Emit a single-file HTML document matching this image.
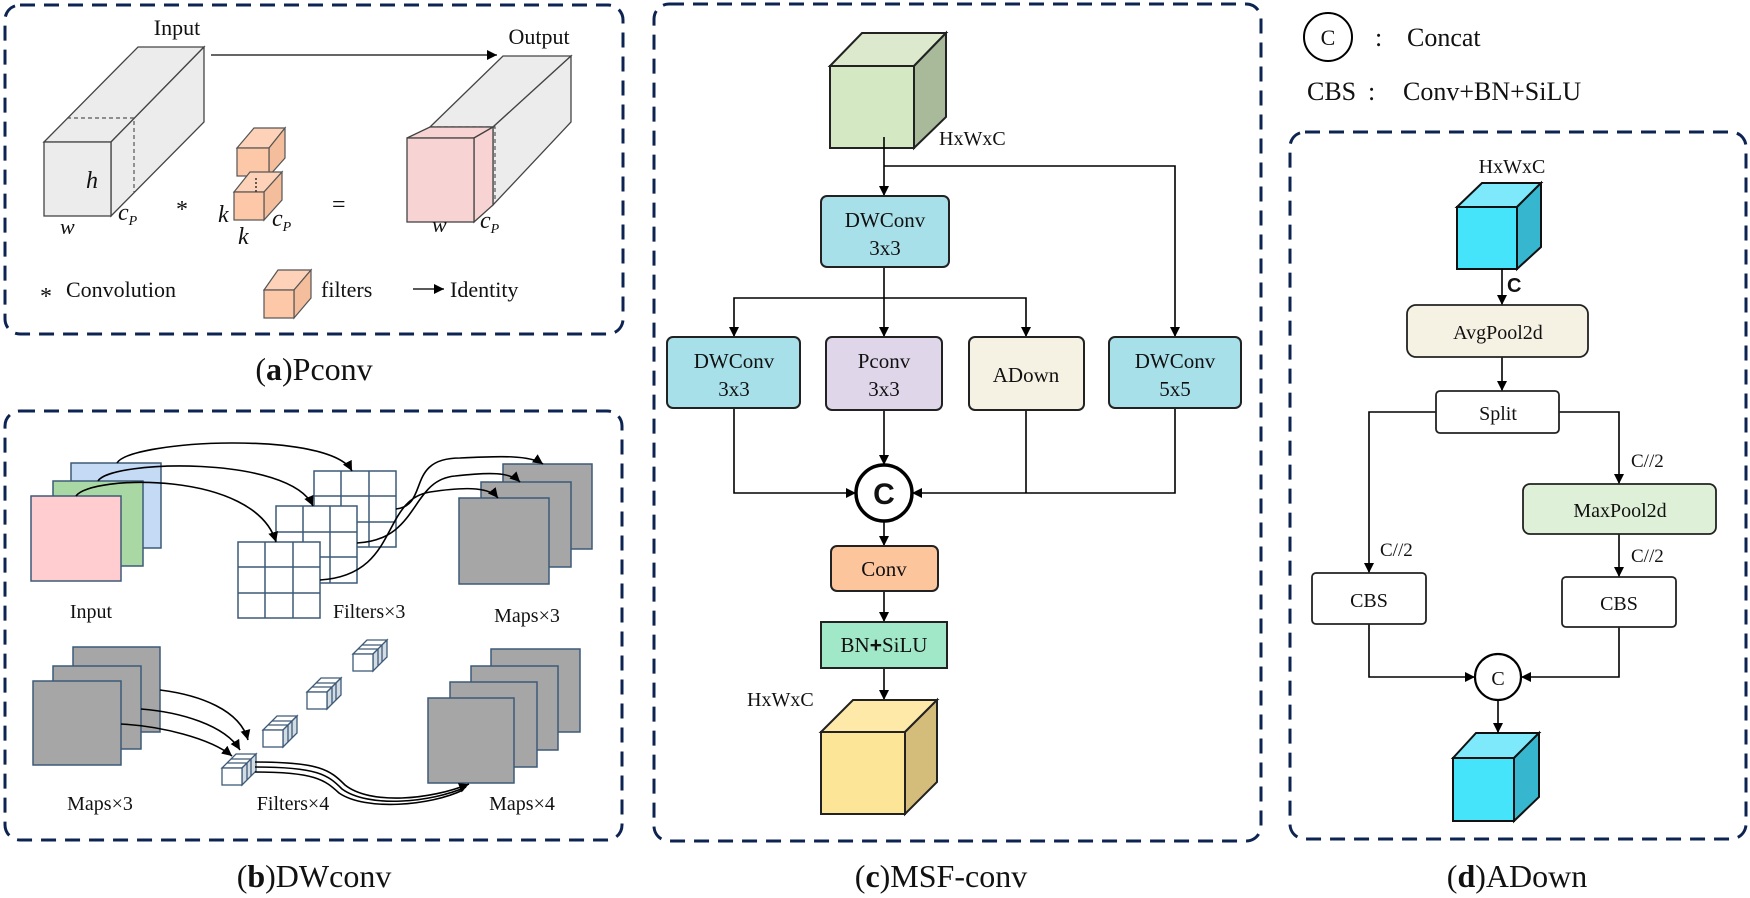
<!DOCTYPE html>
<html><head><meta charset="utf-8"><style>
html,body{margin:0;padding:0;background:#fff;}
svg{display:block;}
text{font-family:"Liberation Serif",serif;fill:#111;}
</style></head><body>
<svg width="1750" height="898" viewBox="0 0 1750 898" xmlns="http://www.w3.org/2000/svg">
<defs>
<marker id="ar" viewBox="0 0 10 10" refX="10" refY="5" markerWidth="7" markerHeight="7" markerUnits="userSpaceOnUse" orient="auto" style="overflow:visible">
<path d="M0,0 L10,5 L0,10 z" fill="#000" transform="scale(1.4) translate(-2.9,-1.45)"/>
</marker>
<marker id="as" viewBox="0 0 10 10" refX="10" refY="5" markerWidth="10" markerHeight="10" markerUnits="userSpaceOnUse" orient="auto">
<path d="M0,0 L10,5 L0,10 z" fill="#000"/>
</marker>
</defs>

<!-- Panel borders -->
<g fill="none" stroke="#0d2452" stroke-width="3" stroke-dasharray="15 9">
<rect x="5" y="5" width="618" height="329" rx="15"/>
<rect x="5" y="411" width="617" height="429" rx="15"/>
<rect x="654" y="4" width="607" height="837" rx="15"/>
<rect x="1290" y="132" width="456" height="707" rx="15"/>
</g>

<!-- Captions -->
<g font-size="32" text-anchor="middle">
<text x="314" y="380">(<tspan font-weight="bold">a</tspan>)Pconv</text>
<text x="314" y="887">(<tspan font-weight="bold">b</tspan>)DWconv</text>
<text x="941" y="887">(<tspan font-weight="bold">c</tspan>)MSF-conv</text>
<text x="1517" y="887">(<tspan font-weight="bold">d</tspan>)ADown</text>
</g>

<!-- ===== Panel a ===== -->
<g stroke="#444" stroke-width="1.3" fill="#ececec">
<polygon points="44,142 138,47 204,47 111,142"/>
<polygon points="111,142 204,47 204,122 111,216"/>
<rect x="44" y="142" width="67" height="74"/>
</g>
<g stroke="#555" stroke-width="1.2" stroke-dasharray="4 3" fill="none">
<polyline points="67,118 134,118 134,193"/>
</g>
<text x="177" y="35" font-size="22" text-anchor="middle">Input</text>
<text x="86" y="188" font-size="24" font-style="italic">h</text>
<text x="60" y="234" font-size="22" font-style="italic">w</text>
<text x="118" y="220" font-size="24" font-style="italic">c<tspan font-size="14" dy="5">P</tspan></text>
<text x="176" y="217" font-size="24">*</text>
<text x="332" y="212" font-size="24">=</text>
<!-- filter cubes -->
<g stroke="#555" stroke-width="1.2">
<polygon points="237,148 254,128 285,128 269,148" fill="#fdd2b8"/>
<polygon points="269,148 285,128 285,158 269,176" fill="#f4bd9c"/>
<rect x="237" y="148" width="32" height="28" fill="#fdc8a8"/>
<polygon points="234,192 250,172 282,172 264,192" fill="#fdd2b8"/>
<polygon points="264,192 282,172 282,200 264,220" fill="#f4bd9c"/>
<rect x="234" y="192" width="30" height="28" fill="#fdc8a8"/>
</g>
<line x1="256" y1="178" x2="256" y2="192" stroke="#333" stroke-width="1.5" stroke-dasharray="2 2"/>
<text x="218" y="222" font-size="24" font-style="italic">k</text>
<text x="238" y="244" font-size="24" font-style="italic">k</text>
<text x="272" y="226" font-size="24" font-style="italic">c<tspan font-size="14" dy="5">P</tspan></text>
<!-- output -->
<g stroke="#444" stroke-width="1.3" fill="#ececec">
<polygon points="430,127 503,56 571,56 493,127"/>
<polygon points="493,127 571,56 571,122 493,205"/>
</g>
<g stroke="#555" stroke-width="1.2" stroke-dasharray="4 3" fill="none">
<polyline points="430,127 495,127 495,203"/>
</g>
<g stroke="#444" stroke-width="1.3" fill="#f7d3d3">
<polygon points="407,138 430,127 493,127 474,138"/>
<polygon points="474,138 493,127 493,205 474,222"/>
<rect x="407" y="138" width="67" height="84"/>
</g>
<text x="539" y="44" font-size="22" text-anchor="middle">Output</text>
<text x="432" y="232" font-size="22" font-style="italic">w</text>
<text x="480" y="228" font-size="24" font-style="italic">c<tspan font-size="14" dy="5">P</tspan></text>
<line x1="211" y1="55" x2="497" y2="55" stroke="#333" stroke-width="1.4" marker-end="url(#as)"/>
<!-- legend -->
<text x="40" y="304" font-size="24">*</text>
<text x="66" y="297" font-size="22">Convolution</text>
<g stroke="#555" stroke-width="1.2">
<polygon points="264,290 278,270 311,270 294,290" fill="#fdd2b8"/>
<polygon points="294,290 311,270 311,298 294,318" fill="#f4bd9c"/>
<rect x="264" y="290" width="30" height="28" fill="#fdc8a8"/>
</g>
<text x="321" y="297" font-size="22">filters</text>
<line x1="413" y1="289" x2="444" y2="289" stroke="#222" stroke-width="1.4" marker-end="url(#as)"/>
<text x="450" y="297" font-size="22">Identity</text>

<!-- ===== Panel b ===== -->
<g stroke="#3d5a78" stroke-width="1.5">
<rect x="71" y="463" width="90" height="85" fill="#c5daf5"/>
<rect x="53" y="481" width="90" height="85" fill="#a9d8a5"/>
<rect x="31" y="496" width="90" height="85" fill="#ffcdd0"/>
</g>
<text x="91" y="618" font-size="20" text-anchor="middle">Input</text>
<g stroke="#3d5a78" stroke-width="1.5" fill="#fff">
<rect x="314" y="471" width="82" height="76"/>
<path d="M341 471 V547 M369 471 V547 M314 496 H396 M314 522 H396" fill="none"/>
<rect x="276" y="506" width="81" height="77"/>
<path d="M303 506 V583 M330 506 V583 M276 532 H357 M276 557 H357" fill="none"/>
<rect x="238" y="542" width="82" height="76"/>
<path d="M265 542 V618 M293 542 V618 M238 567 H320 M238 593 H320" fill="none"/>
</g>
<text x="333" y="618" font-size="20">Filters×3</text>
<g stroke="#3d5a78" stroke-width="1.5" fill="#a6a6a6">
<rect x="503" y="464" width="89" height="85"/>
<rect x="481" y="482" width="90" height="85"/>
<rect x="459" y="498" width="90" height="86"/>
</g>
<text x="527" y="622" font-size="20" text-anchor="middle">Maps×3</text>
<g fill="none" stroke="#000" stroke-width="1.6">
<path d="M117 463 C130 440 330 430 352 471" marker-end="url(#as)"/>
<path d="M98 481 C110 460 290 455 313 506" marker-end="url(#as)"/>
<path d="M76 496 C90 475 255 470 276 542" marker-end="url(#as)"/>
<path d="M396 509 C430 505 405 458 460 458 C500 456 530 455 543 464" marker-end="url(#as)"/>
<path d="M357 543 C420 540 410 480 455 476 C490 472 510 472 520 482" marker-end="url(#as)"/>
<path d="M320 580 C400 575 380 500 430 492 C470 486 490 488 498 498" marker-end="url(#as)"/>
</g>
<!-- bottom of b -->
<g stroke="#3d5a78" stroke-width="1.5" fill="#a6a6a6">
<rect x="73" y="647" width="87" height="85"/>
<rect x="53" y="666" width="88" height="83"/>
<rect x="33" y="681" width="88" height="84"/>
<rect x="491" y="649" width="89" height="83"/>
<rect x="471" y="666" width="87" height="84"/>
<rect x="450" y="682" width="87" height="85"/>
<rect x="428" y="698" width="86" height="85"/>
</g>
<text x="100" y="810" font-size="20" text-anchor="middle">Maps×3</text>
<text x="293" y="810" font-size="20" text-anchor="middle">Filters×4</text>
<text x="522" y="810" font-size="20" text-anchor="middle">Maps×4</text>
<g stroke="#3d5a78" stroke-width="1.3">
<g transform="translate(353,654)">
<polygon points="14,-14 34,-14 20,0 0,0" fill="#fff"/><polygon points="20,0 34,-14 34,3 20,17" fill="#d3dbe3"/><path d="M25 -5 V12 M29 -9 V8" fill="none"/><rect x="0" y="0" width="20" height="17" fill="#fff"/><path d="M5 -5 H25 M9 -9 H29" fill="none"/>
</g>
<g transform="translate(307,692)">
<polygon points="14,-14 34,-14 20,0 0,0" fill="#fff"/><polygon points="20,0 34,-14 34,3 20,17" fill="#d3dbe3"/><path d="M25 -5 V12 M29 -9 V8" fill="none"/><rect x="0" y="0" width="20" height="17" fill="#fff"/><path d="M5 -5 H25 M9 -9 H29" fill="none"/>
</g>
<g transform="translate(263,730)">
<polygon points="14,-14 34,-14 20,0 0,0" fill="#fff"/><polygon points="20,0 34,-14 34,3 20,17" fill="#d3dbe3"/><path d="M25 -5 V12 M29 -9 V8" fill="none"/><rect x="0" y="0" width="20" height="17" fill="#fff"/><path d="M5 -5 H25 M9 -9 H29" fill="none"/>
</g>
<g transform="translate(222,768)">
<polygon points="14,-14 34,-14 20,0 0,0" fill="#fff"/><polygon points="20,0 34,-14 34,3 20,17" fill="#d3dbe3"/><path d="M25 -5 V12 M29 -9 V8" fill="none"/><rect x="0" y="0" width="20" height="17" fill="#fff"/><path d="M5 -5 H25 M9 -9 H29" fill="none"/>
</g>
</g>
<g fill="none" stroke="#000" stroke-width="1.6">
<path d="M160 690 C200 695 240 710 248 740" marker-end="url(#as)"/>
<path d="M141 709 C180 712 225 725 240 750" marker-end="url(#as)"/>
<path d="M121 724 C160 726 210 738 232 756" marker-end="url(#as)"/>
<path d="M255 762 C320 762 330 770 345 785 C370 805 430 800 469 784" marker-end="url(#as)"/>
<path d="M255 767 C318 767 328 775 342 789 C368 808 430 803 466 787"/>
<path d="M255 772 C315 772 325 780 339 793 C365 811 430 806 463 790"/>
</g>

<!-- ===== Panel c ===== -->
<g stroke="#222" stroke-width="2">
<polygon points="830,66 862,33 946,33 914,66" fill="#dde9cd"/>
<polygon points="914,66 946,33 946,117 914,148" fill="#a9ba9b"/>
<rect x="830" y="66" width="84" height="82" fill="#d5e8c4"/>
</g>
<text x="939" y="145" font-size="20">HxWxC</text>
<g fill="none" stroke="#000" stroke-width="1.6">
<line x1="884" y1="137" x2="884" y2="196" marker-end="url(#as)"/>
<polyline points="884,166 1175,166 1175,337" marker-end="url(#as)"/>
<line x1="884" y1="267" x2="884" y2="337" marker-end="url(#as)"/>
<polyline points="884,298 734,298 734,337" marker-end="url(#as)"/>
<polyline points="884,298 1026,298 1026,337" marker-end="url(#as)"/>
<polyline points="734,408 734,493 856,493" marker-end="url(#as)"/>
<line x1="884" y1="410" x2="884" y2="465" marker-end="url(#as)"/>
<polyline points="1175,408 1175,493 912,493" marker-end="url(#as)"/>
<line x1="1026" y1="408" x2="1026" y2="493"/>
<line x1="884" y1="521" x2="884" y2="546" marker-end="url(#as)"/>
<line x1="884" y1="591" x2="884" y2="622" marker-end="url(#as)"/>
<line x1="884" y1="668" x2="884" y2="700" marker-end="url(#as)"/>
</g>
<g stroke="#222" stroke-width="2">
<rect x="821" y="196" width="128" height="71" rx="6" fill="#a8e0e9"/>
<rect x="667" y="337" width="133" height="71" rx="6" fill="#a8e0e9"/>
<rect x="826" y="337" width="116" height="73" rx="6" fill="#e0d6ea"/>
<rect x="969" y="337" width="115" height="73" rx="6" fill="#f5f1e3"/>
<rect x="1109" y="337" width="132" height="71" rx="6" fill="#a8e0e9"/>
<rect x="831" y="546" width="107" height="45" rx="6" fill="#fdc59b"/>
<rect x="821" y="622" width="126" height="46" fill="#a1e8c8"/>
</g>
<circle cx="884" cy="493" r="28" fill="#fff" stroke="#000" stroke-width="3.5"/>
<text x="884" y="504" font-size="30" font-weight="bold" text-anchor="middle" style="font-family:'Liberation Sans',sans-serif">C</text>
<g font-size="21" text-anchor="middle">
<text x="885" y="227">DWConv</text><text x="885" y="255">3x3</text>
<text x="734" y="368">DWConv</text><text x="734" y="396">3x3</text>
<text x="884" y="368">Pconv</text><text x="884" y="396">3x3</text>
<text x="1026" y="382">ADown</text>
<text x="1175" y="368">DWConv</text><text x="1175" y="396">5x5</text>
<text x="884" y="576">Conv</text>
<text x="884" y="652">BN<tspan font-weight="bold" style="font-family:'Liberation Sans',sans-serif">+</tspan>SiLU</text>
</g>
<text x="747" y="706" font-size="20">HxWxC</text>
<g stroke="#222" stroke-width="2">
<polygon points="821,732 853,700 937,700 905,732" fill="#fee9a8"/>
<polygon points="905,732 937,700 937,782 905,814" fill="#d4bc7a"/>
<rect x="821" y="732" width="84" height="82" fill="#fde597"/>
</g>

<!-- ===== Panel d & legend ===== -->
<circle cx="1328" cy="37" r="24" fill="none" stroke="#000" stroke-width="2"/>
<text x="1328" y="45" font-size="22" text-anchor="middle">C</text>
<text x="1375" y="46" font-size="26">:</text>
<text x="1407" y="46" font-size="26">Concat</text>
<text x="1307" y="100" font-size="26">CBS</text>
<text x="1368" y="100" font-size="26">:</text>
<text x="1403" y="100" font-size="26">Conv+BN+SiLU</text>

<text x="1512" y="173" font-size="20" text-anchor="middle">HxWxC</text>
<g stroke="#111" stroke-width="2">
<polygon points="1457,207 1482,183 1541,183 1517,207" fill="#7de9fb"/>
<polygon points="1517,207 1541,183 1541,247 1517,269" fill="#37b7cf"/>
<rect x="1457" y="207" width="60" height="62" fill="#46e4fb"/>
<polygon points="1453,758 1476,733 1539,733 1514,758" fill="#7de9fb"/>
<polygon points="1514,758 1539,733 1539,797 1514,821" fill="#37b7cf"/>
<rect x="1453" y="758" width="61" height="63" fill="#46e4fb"/>
</g>
<text x="1507" y="292" font-size="20" font-weight="bold" style="font-family:'Liberation Sans',sans-serif">C</text>
<g fill="none" stroke="#000" stroke-width="1.6">
<line x1="1502" y1="269" x2="1502" y2="305" marker-end="url(#as)"/>
<line x1="1502" y1="357" x2="1502" y2="391" marker-end="url(#as)"/>
<polyline points="1436,412 1369,412 1369,573" marker-end="url(#as)"/>
<polyline points="1559,412 1619,412 1619,484" marker-end="url(#as)"/>
<line x1="1619" y1="534" x2="1619" y2="577" marker-end="url(#as)"/>
<polyline points="1369,624 1369,677 1475,677" marker-end="url(#as)"/>
<polyline points="1619,627 1619,677 1521,677" marker-end="url(#as)"/>
<line x1="1498" y1="700" x2="1498" y2="733" marker-end="url(#as)"/>
</g>
<g stroke="#222" stroke-width="1.8">
<rect x="1407" y="305" width="181" height="52" rx="9" fill="#f5f1e3"/>
<rect x="1436" y="391" width="123" height="42" rx="4" fill="#fff"/>
<rect x="1523" y="484" width="193" height="50" rx="7" fill="#dff0d8"/>
<rect x="1312" y="573" width="114" height="51" rx="4" fill="#fff"/>
<rect x="1562" y="577" width="114" height="50" rx="4" fill="#fff"/>
</g>
<circle cx="1498" cy="677" r="23" fill="#fff" stroke="#000" stroke-width="2.2"/>
<g font-size="20" text-anchor="middle">
<text x="1498" y="339">AvgPool2d</text>
<text x="1498" y="420">Split</text>
<text x="1620" y="517">MaxPool2d</text>
<text x="1369" y="607">CBS</text>
<text x="1619" y="610">CBS</text>
<text x="1498" y="685">C</text>
</g>
<g font-size="19">
<text x="1631" y="467">C//2</text>
<text x="1380" y="556">C//2</text>
<text x="1631" y="562">C//2</text>
</g>
</svg>
</body></html>
